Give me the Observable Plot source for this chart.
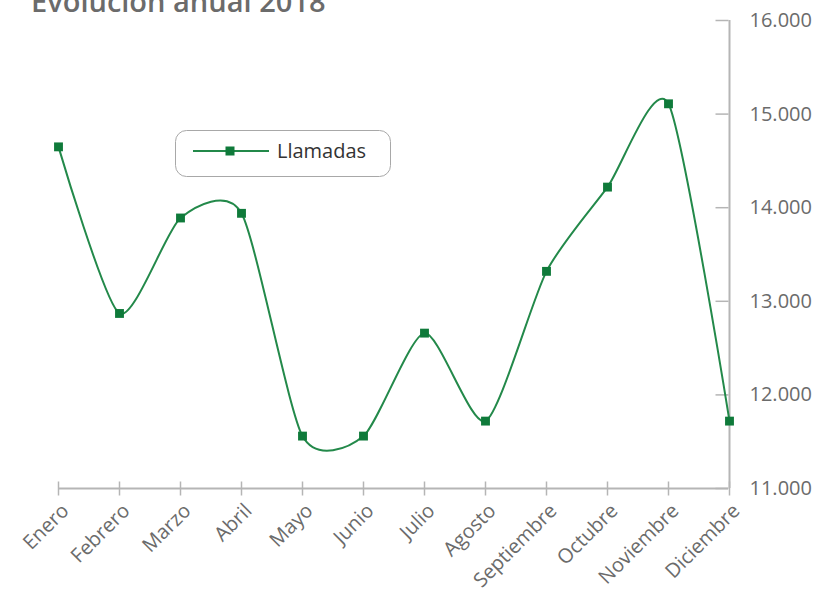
<!DOCTYPE html>
<html>
<head>
<meta charset="utf-8">
<script src="https://cdn.jsdelivr.net/npm/d3@7"></script>
<script src="https://cdn.jsdelivr.net/npm/@observablehq/plot@0.6"></script>
<style>
  html, body { margin: 0; padding: 0; background: #fff; }
  #chart { position: relative; width: 820px; height: 598px; overflow: hidden; }
  svg { font-family: "Open Sans", sans-serif; }
</style>
</head>
<body>
<div id="chart"></div>
<script>
const title = "Evolución anual 2018";
const seriesName = "Llamadas";
const months = ["Enero", "Febrero", "Marzo", "Abril", "Mayo", "Junio", "Julio", "Agosto", "Septiembre", "Octubre", "Noviembre", "Diciembre"];
const llamadas = [14650, 12870, 13890, 13940, 11560, 11560, 12660, 11720, 13320, 14220, 15110, 11720];
const yTicks = [11000, 12000, 13000, 14000, 15000, 16000];

const lineColor = "#23894a";
const markerColor = "#0f7a3a";
const axisColor = "#b5b5b5";
const textColor = "#6b6b6b";

const data = months.map((m, i) => ({month: m, value: llamadas[i]}));
const fmt = d => d3.format(",")(d).replace(/,/g, ".");

const tickLeft = {draw(ctx) { ctx.moveTo(-13, 0); ctx.lineTo(0, 0); }};
const tickVert = {draw(ctx) { ctx.moveTo(0, -7); ctx.lineTo(0, 7); }};

const plot = Plot.plot({
  width: 820,
  height: 598,
  marginLeft: 58,
  marginRight: 92,
  marginTop: 20,
  marginBottom: 110,
  style: {fontFamily: "'Open Sans', sans-serif", background: "#fff"},
  x: {type: "point", domain: months, padding: 0, range: [53, 733], axis: null},
  y: {domain: [11000, 16000], axis: null},
  marks: [
    Plot.ruleY([11000], {stroke: axisColor, strokeWidth: 2}),
    Plot.ruleX(["Diciembre"], {stroke: axisColor, strokeWidth: 2}),
    Plot.dot(months, {x: d => d, frameAnchor: "bottom", symbol: tickVert, stroke: axisColor, strokeWidth: 1.5, fill: "none"}),
    Plot.dot(yTicks, {y: d => d, frameAnchor: "right", symbol: tickLeft, stroke: axisColor, strokeWidth: 1.5, fill: "none"}),
    Plot.text(yTicks, {y: d => d, frameAnchor: "right", text: fmt, textAnchor: "start", dx: 21, fontSize: 20, fill: textColor}),
    Plot.text(months, {x: d => d, frameAnchor: "bottom", text: d => d, rotate: -45, textAnchor: "end", lineAnchor: "middle", dx: 7, dy: 19, fontSize: 20, fill: textColor}),
    Plot.line(data, {x: "month", y: "value", curve: d3.curveCardinal.tension(0.3), stroke: lineColor, strokeWidth: 2}),
    Plot.dot(data, {x: "month", y: "value", symbol: "square", r: 5, fill: markerColor, stroke: "none"})
  ]
});

document.getElementById("chart").appendChild(plot);

const svg = d3.select(plot);
svg.append("text")
  .attr("x", 31).attr("y", 12)
  .attr("text-anchor", "start")
  .attr("font-size", 29).attr("font-weight", 600)
  .attr("fill", textColor)
  .attr("font-family", "'Open Sans', sans-serif")
  .text(title);

const lg = svg.append("g").attr("text-anchor", "start");
lg.append("rect")
  .attr("x", 175.5).attr("y", 130.5).attr("width", 215).attr("height", 46)
  .attr("rx", 11).attr("fill", "#fff").attr("stroke", "#a8a8a8");
lg.append("line")
  .attr("x1", 193).attr("x2", 269).attr("y1", 151).attr("y2", 151)
  .attr("stroke", lineColor).attr("stroke-width", 2);
lg.append("rect")
  .attr("x", 225.5).attr("y", 146.5).attr("width", 9).attr("height", 9)
  .attr("fill", markerColor);
lg.append("text")
  .attr("x", 277).attr("y", 158)
  .attr("text-anchor", "start")
  .attr("font-size", 20).attr("fill", "#333")
  .attr("font-family", "'Open Sans', sans-serif")
  .text(seriesName);
</script>
</body>
</html>
